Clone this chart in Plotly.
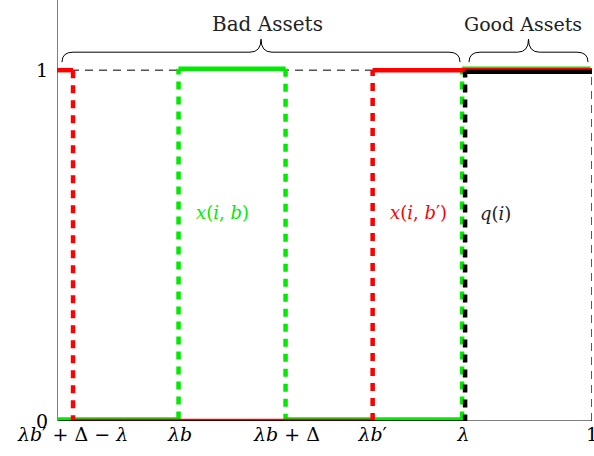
import plotly.graph_objects as go

# ---- data ----
tick_vals = [0.03, 0.23, 0.43, 0.59, 0.76, 1.0]
tick_text = ["<i>λb</i>′ + Δ − <i>λ</i>", "<i>λb</i>", "<i>λb</i> + Δ",
             "<i>λb</i>′", "<i>λ</i>", "1"]

red_breaks = [0, 0.03, 0.59, 1.0]      # x(i, b')
red_levels = [1, 0, 1]
green_breaks = [0, 0.23, 0.43, 0.76, 1.0]  # x(i, b)
green_levels = [0, 1, 0, 1]
black_breaks = [0, 0.76, 1.0]          # q(i)
black_levels = [0, 1]

# ---- style ----
W, H = 594, 456
L, R, T, B = 57, 2, 0, 35
Y_MIN, Y_MAX = 0.0, 1.2
PX_X = 1.0 / (W - L - R)
PX_Y = (Y_MAX - Y_MIN) / (H - T - B)
FONT = "DejaVu Serif"
GREEN = "rgb(0,235,0)"
RED = "rgb(255,0,0)"


def step_traces(breaks, levels, color, name, dx_px, dy_px, width):
    dx, dy = dx_px * PX_X, dy_px * PX_Y
    hx, hy, vx, vy = [], [], [], []
    for i, lev in enumerate(levels):
        hx += [breaks[i] + dx, breaks[i + 1] + dx, None]
        hy += [lev + dy, lev + dy, None]
    for i in range(1, len(levels)):
        vx += [breaks[i] + dx, breaks[i] + dx, None]
        vy += [levels[i - 1] + dy, levels[i] + dy, None]
    return [
        go.Scatter(x=vx, y=vy, mode="lines", name=name, showlegend=False,
                   cliponaxis=False,
                   line=dict(color=color, width=width, dash="8px,7px")),
        go.Scatter(x=hx, y=hy, mode="lines", name=name, showlegend=False,
                   cliponaxis=False,
                   line=dict(color=color, width=width)),
    ]


fig = go.Figure()

# dashed reference lines at y=1 and x=1
fig.add_trace(go.Scatter(x=[0, 1], y=[1, 1], mode="lines", showlegend=False,
                         cliponaxis=False,
                         line=dict(color="black", width=1, dash="8px,6px")))
fig.add_trace(go.Scatter(x=[1, 1], y=[0, 1], mode="lines", showlegend=False,
                         cliponaxis=False,
                         line=dict(color="black", width=1.3, dash="8px,6px")))

for tr in step_traces(green_breaks, green_levels, GREEN, "x(i,b)", -1.5, 1.5, 4.5):
    fig.add_trace(tr)
for tr in step_traces(red_breaks, red_levels, RED, "x(i,b')", 0, 0, 4.5):
    fig.add_trace(tr)
for tr in step_traces(black_breaks, black_levels, "black", "q(i)", 1.5, -1.5, 4.5):
    fig.add_trace(tr)


def brace(x0, x1, yb, yh, yt, rx_px=11):
    rx = rx_px * PX_X
    xc = (x0 + x1) / 2
    return (f"M {x0},{yb} Q {x0},{yh} {x0 + rx},{yh} L {xc - rx},{yh} "
            f"Q {xc},{yh} {xc},{yt} Q {xc},{yh} {xc + rx},{yh} "
            f"L {x1 - rx},{yh} Q {x1},{yh} {x1},{yb}")


def ypx(p):
    return (421 - p) / 351.0


def xpx(p):
    return (p - 57) / 535.0


shapes = [
    dict(type="line", xref="x", yref="y", x0=0, x1=1, y0=0, y1=0,
         line=dict(color="black", width=1), layer="below"),
    dict(type="line", xref="x", yref="y", x0=0, x1=0, y0=0, y1=Y_MAX,
         line=dict(color="black", width=1), layer="below"),
    dict(type="path", xref="x", yref="y",
         path=brace(xpx(62), xpx(460), ypx(62), ypx(52), ypx(39)),
         line=dict(color="black", width=1)),
    dict(type="path", xref="x", yref="y",
         path=brace(xpx(469), xpx(588), ypx(62), ypx(52), ypx(39)),
         line=dict(color="black", width=1)),
]

annotations = [
    dict(x=xpx(267), y=ypx(24), text="Bad Assets", showarrow=False,
         font=dict(family=FONT, size=20, color="#222")),
    dict(x=xpx(523), y=ypx(24), text="Good Assets", showarrow=False,
         font=dict(family=FONT, size=19, color="#222")),
    dict(x=xpx(222), y=ypx(212), text="<i>x</i>(<i>i</i>, <i>b</i>)", showarrow=False,
         font=dict(family=FONT, size=18, color=GREEN)),
    dict(x=xpx(418), y=ypx(212), text="<i>x</i>(<i>i</i>, <i>b</i>′)", showarrow=False,
         font=dict(family=FONT, size=18, color=RED)),
    dict(x=xpx(495), y=ypx(213), text="<i>q</i>(<i>i</i>)", showarrow=False,
         font=dict(family=FONT, size=18, color="#222")),
]

fig.update_layout(
    width=W, height=H,
    margin=dict(l=L, r=R, t=T, b=B, pad=0, autoexpand=False),
    paper_bgcolor="white", plot_bgcolor="white",
    font=dict(family=FONT, size=19, color="black"),
    shapes=shapes, annotations=annotations,
    showlegend=False,
    xaxis=dict(range=[0, 1.0], tickvals=tick_vals, ticktext=tick_text,
               showgrid=False, zeroline=False, showline=False, ticks="",
               automargin=False, ticklabelstandoff=0, ticklabeloverflow="allow",
               tickfont=dict(family=FONT, size=19), fixedrange=True),
    yaxis=dict(range=[Y_MIN, Y_MAX], tickvals=[0, 1], ticktext=["0", "1"],
               showgrid=False, zeroline=False, showline=False, ticks="",
               automargin=False, ticklabelstandoff=8, ticklabeloverflow="allow",
               tickfont=dict(family=FONT, size=19), fixedrange=True),
)

fig.write_html("out.html",
               config={"displayModeBar": False},
               post_script="document.body.style.margin='0';"
                           "document.body.style.overflow='hidden';")
